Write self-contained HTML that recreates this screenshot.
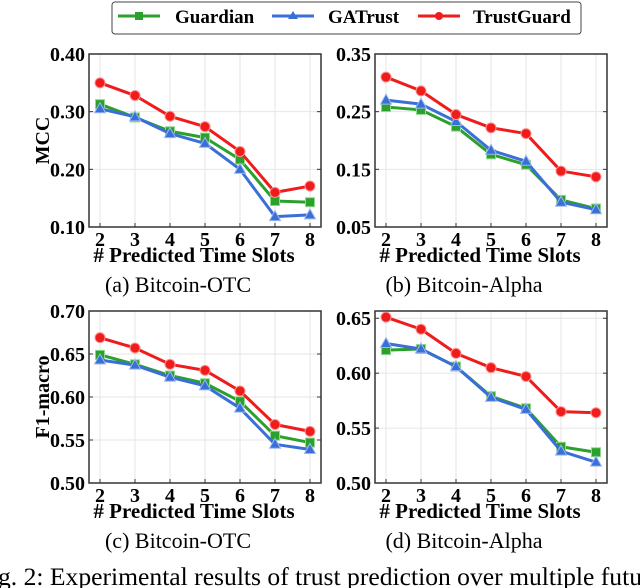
<!DOCTYPE html>
<html><head><meta charset="utf-8"><style>
body{margin:0;background:#fff;}
svg{display:block;font-family:"Liberation Serif",serif;}
</style></head><body>
<svg id="c" width="640" height="588" viewBox="0 0 640 588">
<g>
<rect x="112" y="2" width="469" height="32" rx="3" fill="#fff" stroke="#444" stroke-width="1"/>
<g><line x1="118" y1="16" x2="160" y2="16" stroke="#2ca02c" stroke-width="3"/><rect x="135" y="12" width="8" height="8" fill="#2ca02c"/><text x="175" y="23" font-size="19" font-weight="bold">Guardian</text></g>
<g><line x1="272" y1="16" x2="314" y2="16" stroke="#3a6fd8" stroke-width="3"/><polygon points="293,11 298,19 288,19" fill="#3a6fd8"/><text x="328" y="23" font-size="19" font-weight="bold">GATrust</text></g>
<g><line x1="418" y1="16" x2="460" y2="16" stroke="#f01c1c" stroke-width="3"/><circle cx="439" cy="16" r="4" fill="#f01c1c"/><text x="473" y="23" font-size="19" font-weight="bold">TrustGuard</text></g>
</g>
<text x="-2" y="585" font-size="25.5" textLength="644" lengthAdjust="spacingAndGlyphs">g. 2: Experimental results of trust prediction over multiple futu</text>
</svg>
<script>
const slots=[2,3,4,5,6,7,8];
const aGuardian=[.313,.290,.266,.255,.217,.145,.143];
const aGATrust=[.305,.291,.262,.245,.200,.118,.121];
const aTrustGuard=[.350,.328,.292,.274,.231,.160,.171];
const bGuardian=[.258,.253,.224,.176,.158,.097,.082];
const bGATrust=[.270,.263,.233,.183,.164,.093,.080];
const bTrustGuard=[.310,.286,.245,.222,.212,.147,.137];
const cGuardian=[.649,.638,.625,.616,.595,.555,.547];
const cGATrust=[.643,.637,.623,.613,.587,.545,.539];
const cTrustGuard=[.669,.657,.638,.631,.607,.568,.560];
const dGuardian=[.621,.622,.606,.579,.568,.533,.528];
const dGATrust=[.627,.622,.606,.578,.567,.529,.519];
const dTrustGuard=[.651,.640,.618,.605,.597,.565,.564];
const aTicks=["0.10","0.20","0.30","0.40"];
const bTicks=["0.05","0.15","0.25","0.35"];
const cTicks=["0.50","0.55","0.60","0.65","0.70"];
const dTicks=["0.50","0.55","0.60","0.65"];
const NS="http://www.w3.org/2000/svg";
const svg=document.getElementById('c');
function mk(tag,attrs,parent){const e=document.createElementNS(NS,tag);for(const k in attrs)e.setAttribute(k,attrs[k]);parent.appendChild(e);return e;}
const colors={Guardian:"#2ca02c",GATrust:"#3a6fd8",TrustGuard:"#f01c1c"};
function panel(id,L,R,T,B,ymin,ymax,ticks,series,ylabel,caption){
  const g=mk('g',{},svg);
  
  
  const x0=L+11,x1=R-11;
  const xs=v=>x0+(v-slots[0])/(slots[slots.length-1]-slots[0])*(x1-x0);
  const ys=v=>B-(v-ymin)/(ymax-ymin)*(B-T);
  slots.forEach(s=>{const l=mk('line',{x1:xs(s),x2:xs(s),y1:T,y2:B,stroke:"#e6e6e6","stroke-width":1},g);
    const t=mk('text',{x:xs(s),y:B+19,"font-size":20,"font-weight":"bold","text-anchor":"middle"},g);t.textContent=s;
    mk('line',{x1:xs(s),x2:xs(s),y1:B,y2:B-4,stroke:"#333"},g);});
  ticks.forEach(tk=>{const y=ys(parseFloat(tk));const l=mk('line',{x1:L,x2:R,y1:y,y2:y,stroke:"#e6e6e6"},g);
    mk('line',{x1:L,x2:L+4,y1:y,y2:y,stroke:"#333"},g);mk('line',{x1:R,x2:R-4,y1:y,y2:y,stroke:"#333"},g);
    const t=mk('text',{x:L-4,y:y+7,"font-size":20,"font-weight":"bold","text-anchor":"end"},g);t.textContent=tk;});
  const fr=mk('rect',{x:L,y:T,width:R-L,height:B-T,fill:"none",stroke:"#333","stroke-width":1.5},g);
  
  for(const name in series){const vals=series[name];const c=colors[name];
    const p=mk('polyline',{points:vals.map((v,i)=>xs(slots[i])+','+ys(v)).join(' '),fill:"none",stroke:c,"stroke-width":3,"stroke-linejoin":"round"},g);
    
    vals.forEach((v,i)=>{const x=xs(slots[i]),y=ys(v);let m;
      if(name==="Guardian")m=mk('rect',{x:x-4.5,y:y-4.5,width:9,height:9,fill:c,stroke:"#8fd88f","stroke-width":1},g);
      else if(name==="GATrust")m=mk('polygon',{points:`${x},${y-6} ${x+5.5},${y+4} ${x-5.5},${y+4}`,fill:c,stroke:"#9bb8f0","stroke-width":1},g);
      else m=mk('circle',{cx:x,cy:y,r:5,fill:c,stroke:"#ff9090","stroke-width":1},g);
      });
  }
  const xt=mk('text',{x:(L+R)/2-11,y:B+35,"font-size":21,"font-weight":"bold","text-anchor":"middle"},g);xt.textContent="# Predicted Time Slots";
  
  const cp=mk('text',{x:(L+R)/2-27,y:B+65,"font-size":22,"text-anchor":"middle"},g);cp.textContent=caption;
  
  if(ylabel){const cy=(T+B)/2;const yt=mk('text',{x:49,y:cy,"font-size":20,"font-weight":"bold","text-anchor":"middle",transform:`rotate(-90 49 ${cy})`},g);yt.textContent=ylabel;
    }
}
panel('a',89,321,54,227,0.10,0.40,aTicks,{Guardian:aGuardian,GATrust:aGATrust,TrustGuard:aTrustGuard},"MCC","(a)  Bitcoin-OTC");
panel('b',375,607,54,227,0.05,0.35,bTicks,{Guardian:bGuardian,GATrust:bGATrust,TrustGuard:bTrustGuard},null,"(b)  Bitcoin-Alpha");
panel('c',89,321,311,483,0.50,0.70,cTicks,{Guardian:cGuardian,GATrust:cGATrust,TrustGuard:cTrustGuard},"F1-macro","(c)  Bitcoin-OTC");
panel('d',375,607,311,483,0.50,0.6566,dTicks,{Guardian:dGuardian,GATrust:dGATrust,TrustGuard:dTrustGuard},null,"(d)  Bitcoin-Alpha");
</script>
</body></html>
